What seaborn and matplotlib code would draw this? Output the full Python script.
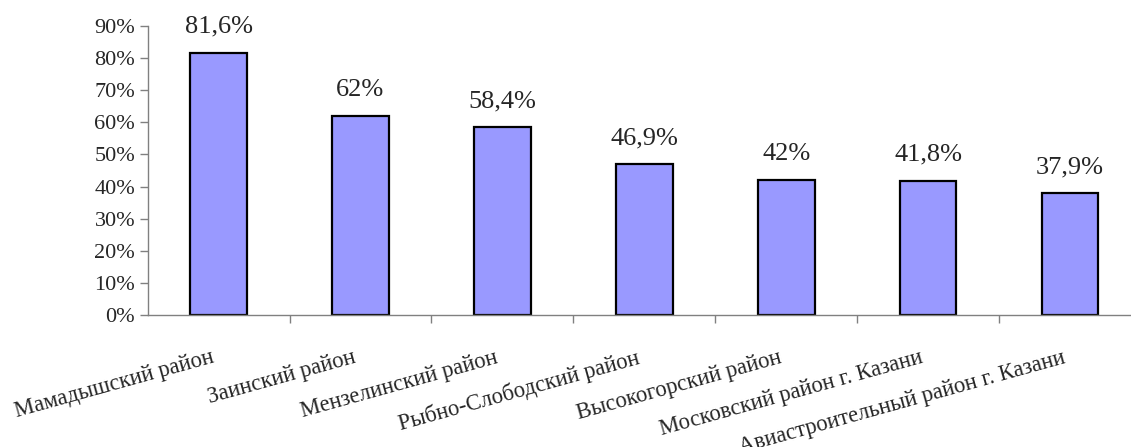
import matplotlib
matplotlib.use("Agg")
import matplotlib.pyplot as plt
import matplotlib.transforms as mtransforms
import seaborn as sns
import pandas as pd
import numpy as np
from matplotlib.ticker import FixedLocator, FuncFormatter

categories = ["Мамадышский район", "Заинский район", "Мензелинский район",
              "Рыбно-Слободский район", "Высокогорский район",
              "Московский район г. Казани", "Авиастроительный район г. Казани"]
values = [81.6, 62, 58.4, 46.9, 42, 41.8, 37.9]
value_labels = ["81,6%", "62%", "58,4%", "46,9%", "42%", "41,8%", "37,9%"]
y_ticks = [0, 10, 20, 30, 40, 50, 60, 70, 80, 90]

sns.set_style("white")
plt.rcParams["font.family"] = ["Liberation Serif", "DejaVu Serif"]

df = pd.DataFrame({"cat": categories, "val": values})

fig = plt.figure(figsize=(11.31, 4.47), dpi=100)
ax = fig.add_axes([0.1305, 0.295, 0.8695, 0.647])

sns.barplot(data=df, x="cat", y="val", color="#9999FF", saturation=1,
            width=0.4, edgecolor="black", linewidth=1.6, ax=ax)

ax.set_ylim(0, 90)
ax.set_xlim(-0.5, 6.43)
ax.set_yticks(y_ticks)
ax.yaxis.set_major_formatter(FuncFormatter(lambda v, p: f"{int(v)}%"))
ax.tick_params(axis="y", length=6, width=1, color="#808080", labelsize=16, pad=3, direction="out", left=True)

ax.set_xticks(range(len(categories)))
ax.set_xticklabels(categories, rotation=15.5, ha="right", va="top", rotation_mode="anchor", fontsize=16.3)
ax.tick_params(axis="x", which="major", length=0, pad=23)
offset = mtransforms.ScaledTranslation(-8 / 100, 0, fig.dpi_scale_trans)
for lab in ax.get_xticklabels():
    lab.set_transform(lab.get_transform() + offset)
ax.xaxis.set_minor_locator(FixedLocator(np.arange(0.5, 7, 1.0)))
ax.tick_params(axis="x", which="minor", length=6, width=1, color="#808080", direction="out", bottom=True)

ax.set_xlabel("")
ax.set_ylabel("")
for s in ["top", "right"]:
    ax.spines[s].set_visible(False)
for s in ["left", "bottom"]:
    ax.spines[s].set_color("#808080")
    ax.spines[s].set_linewidth(1)

for i, (v, lab) in enumerate(zip(values, value_labels)):
    ax.annotate(lab, (i, v), xytext=(0, 11), textcoords="offset points",
                ha="center", va="bottom", fontsize=19)

fig.savefig("out.png", dpi=100)
